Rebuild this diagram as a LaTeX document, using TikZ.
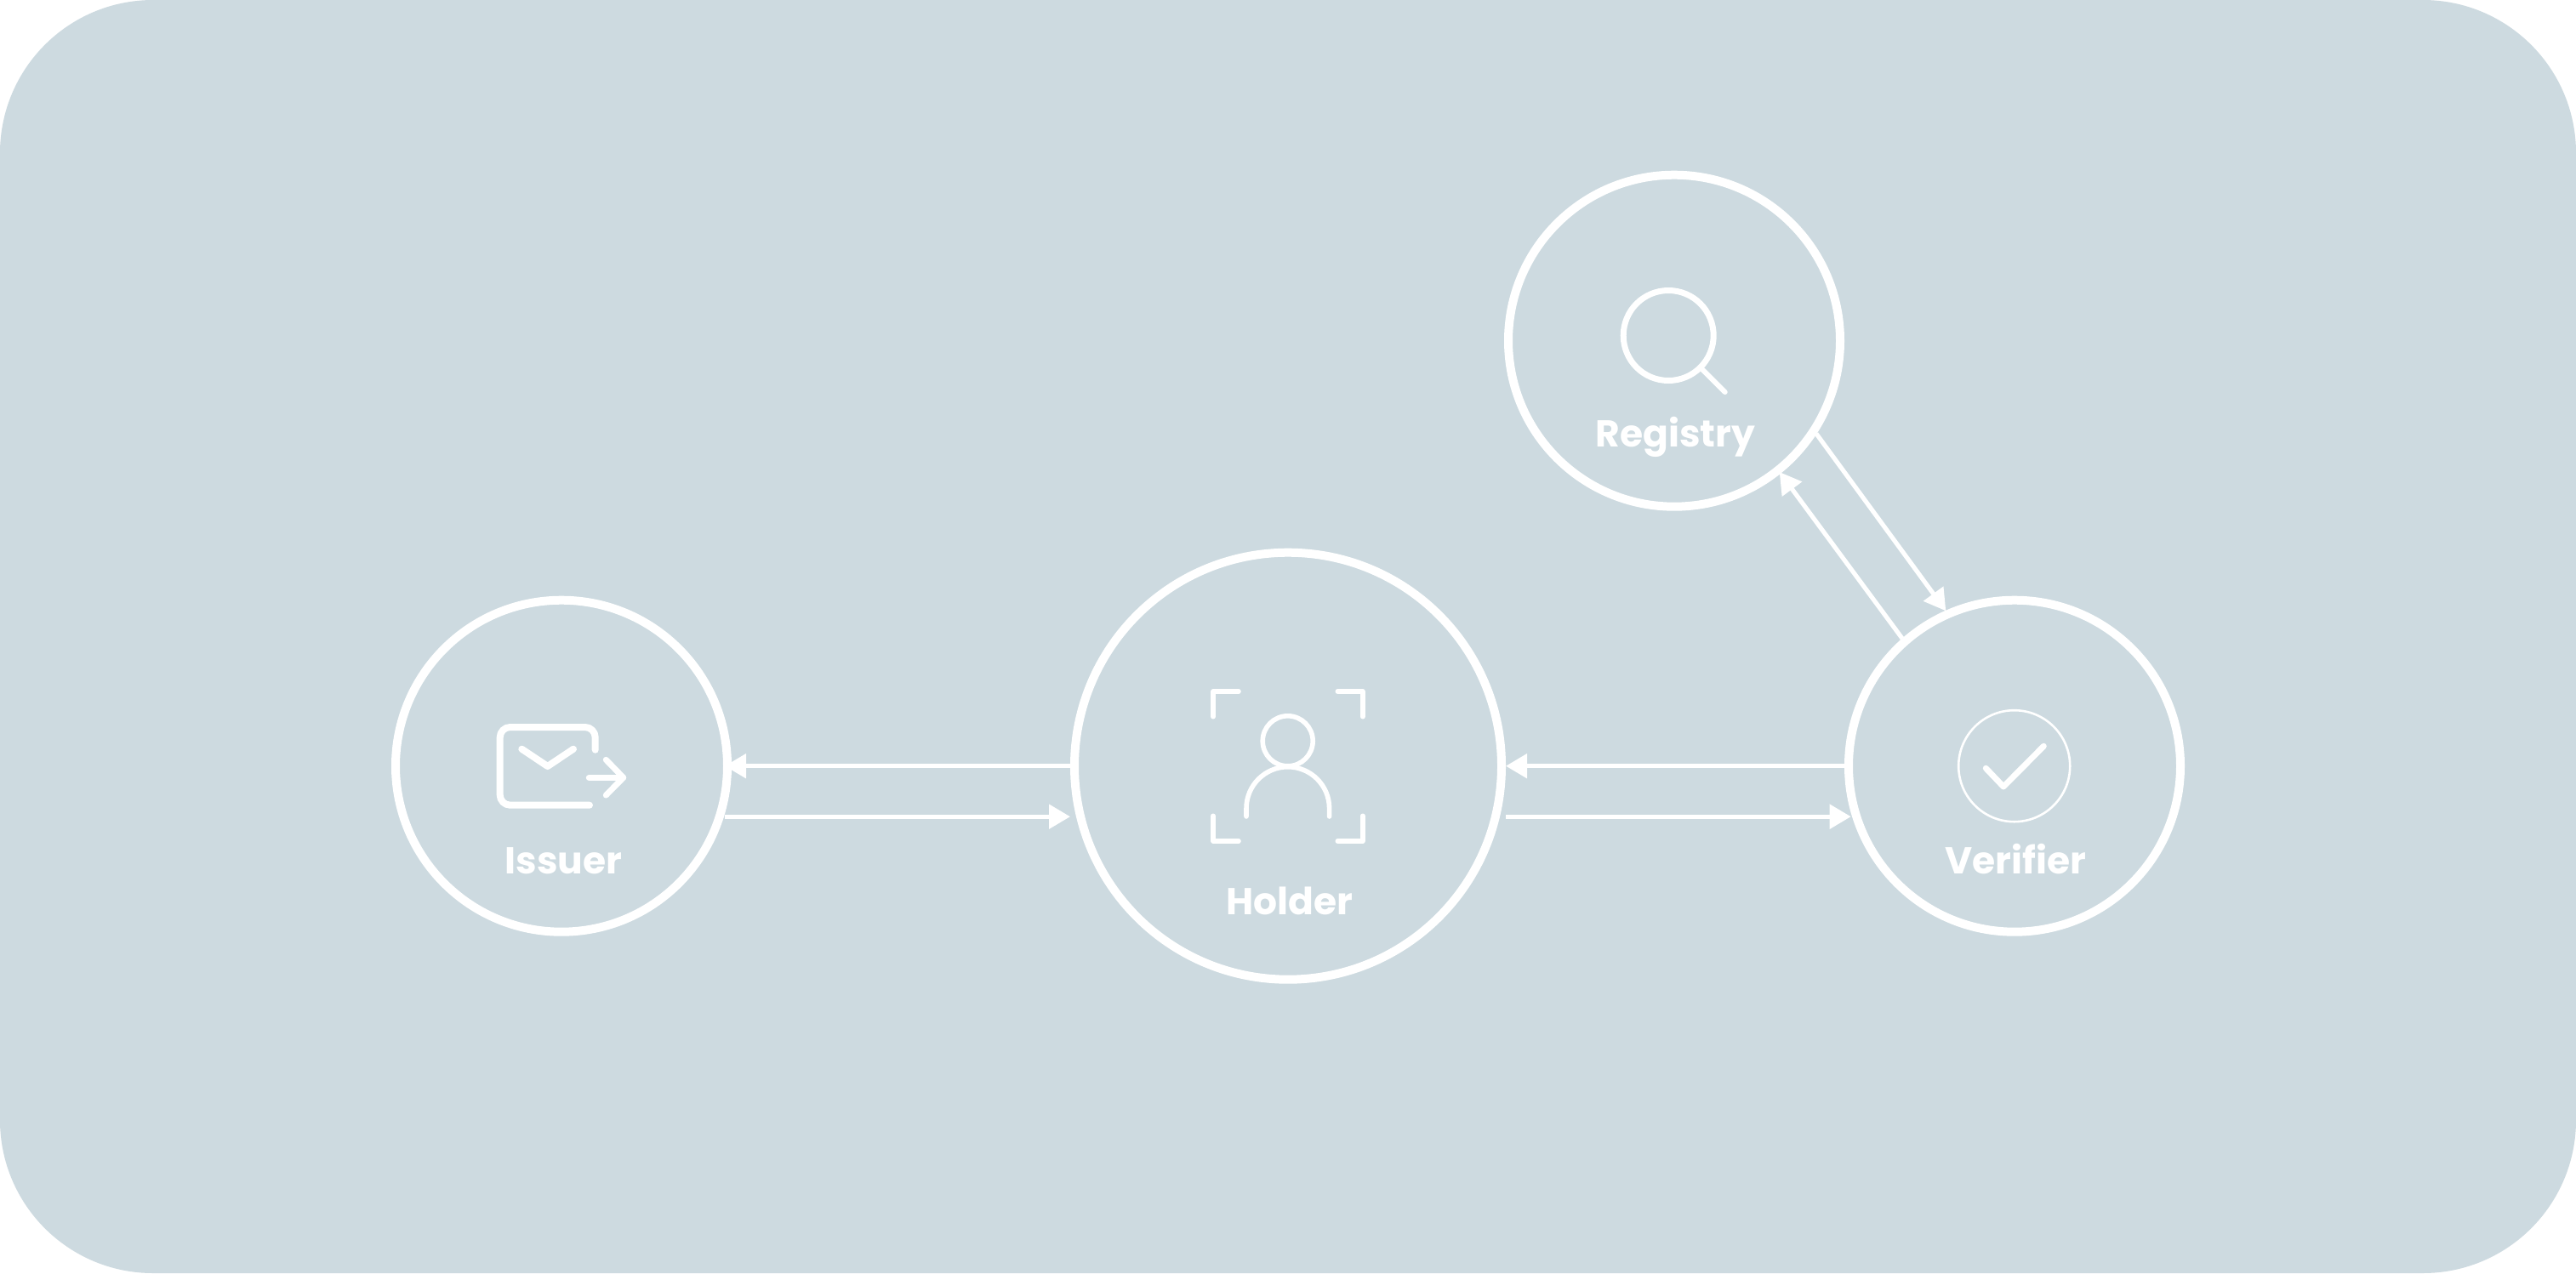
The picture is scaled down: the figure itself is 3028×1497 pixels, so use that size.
\documentclass[tikz,border=0pt]{standalone}
\usepackage{fontspec}
\setmainfont{Poppins}
\usetikzlibrary{arrows.meta,calc}
\definecolor{panel}{RGB}{205,218,224}
\tikzset{
  ring/.style={circle,draw=white,line width=10pt,inner sep=0pt,outer sep=0pt},
  smallring/.style={ring,minimum size=390pt},
  bigring/.style={ring,minimum size=502pt},
  link/.style={draw=white,line width=5.2pt,-{Triangle[length=25pt,width=28pt]}},
  iconline/.style={draw=white,line cap=round,line join=round},
  lbl/.style={text=white,anchor=base,inner sep=0pt,font=\fontsize{44}{50}\selectfont\bfseries}
}
\begin{document}
\begin{tikzpicture}[x=1pt,y=-1pt]
\useasboundingbox (0,0) rectangle (3028,1497);
\fill[white] (0,0) rectangle (3028,1497);
\fill[panel,rounded corners=180pt] (0,0) rectangle (3028,1497);

% connectors
\coordinate (c1) at (660,900.7);
\coordinate (c2) at (1514,900.7);
\coordinate (c3) at (2368,900.7);
\coordinate (c4) at (1968,400.7);
\draw[link] ([shift={(-256,0)}]c2) -- ([shift={(192,0)}]c1);
\draw[link] ([shift={(192,59.5)}]c1) -- ([shift={(-256,59.5)}]c2);
\draw[link] ([shift={(-200,0)}]c3) -- ([shift={(256,0)}]c2);
\draw[link] ([shift={(256,59.5)}]c2) -- ([shift={(-192.3,59.5)}]c3);
\draw[link] ([shift={(167,109.3)}]c4) -- ([shift={(-80.7,-182.4)}]c3);
\draw[link] ([shift={(-132,-150)}]c3) -- ([shift={(123.7,154.3)}]c4);

% circles
\node[smallring] (issuer) at (c1) {};
\node[bigring] (holder) at (c2) {};
\node[smallring] (verifier) at (c3) {};
\node[smallring] (registry) at (c4) {};

% labels
\node[lbl] (issuerlabel) at (662.5,1027) {Issuer};
\node[lbl] (holderlabel) at (1516,1075) {Holder};
\node[lbl] (verifierlabel) at (2369.5,1027) {Verifier};
\node[lbl] (registrylabel) at (1969.4,525.7) {Registry};

% envelope icon
\draw[iconline,line width=8pt] (699.7,881.7) -- (699.7,867) arc[start angle=0,end angle=-90,radius=12] -- (599.7,855) arc[start angle=-90,end angle=-180,radius=12] -- (587.7,934.7) arc[start angle=180,end angle=90,radius=12] -- (693,946.7);
\draw[iconline,line width=8pt] (613.3,880.7) -- (643.7,901) -- (674,880.7);
\draw[iconline,line width=7pt] (692.3,914.3) -- (732.7,914.3);
\draw[iconline,line width=7pt] (712.3,893.3) -- (732.7,914.3) -- (712.3,935);

% holder icon
\draw[iconline,line width=5.6pt] (1456,813) -- (1426,813) -- (1426,842.7);
\draw[iconline,line width=5.6pt] (1572.3,813) -- (1601.7,813) -- (1601.7,842.7);
\draw[iconline,line width=5.6pt] (1426,959.3) -- (1426,989) -- (1456,989);
\draw[iconline,line width=5.6pt] (1601.7,959.3) -- (1601.7,989) -- (1572.3,989);
\draw[iconline,line width=5.6pt] (1513.7,871.3) circle[radius=29.5];
\draw[iconline,line width=5.6pt] (1465,960) -- (1465,950.5) arc[start angle=180,end angle=360,radius=48.8] -- (1562.6,960);

% verifier icon
\draw[draw=white,line width=2.6pt] (2367.7,900.7) circle[radius=65.5];
\draw[iconline,line width=7pt] (2334.3,903.3) -- (2355,925) -- (2402.3,877.3);

% registry icon
\draw[iconline,line width=7pt] (1961.2,394.5) circle[radius=53];
\draw[iconline,line width=6pt] (2000,433.3) -- (2027.7,461);
\end{tikzpicture}
\end{document}
